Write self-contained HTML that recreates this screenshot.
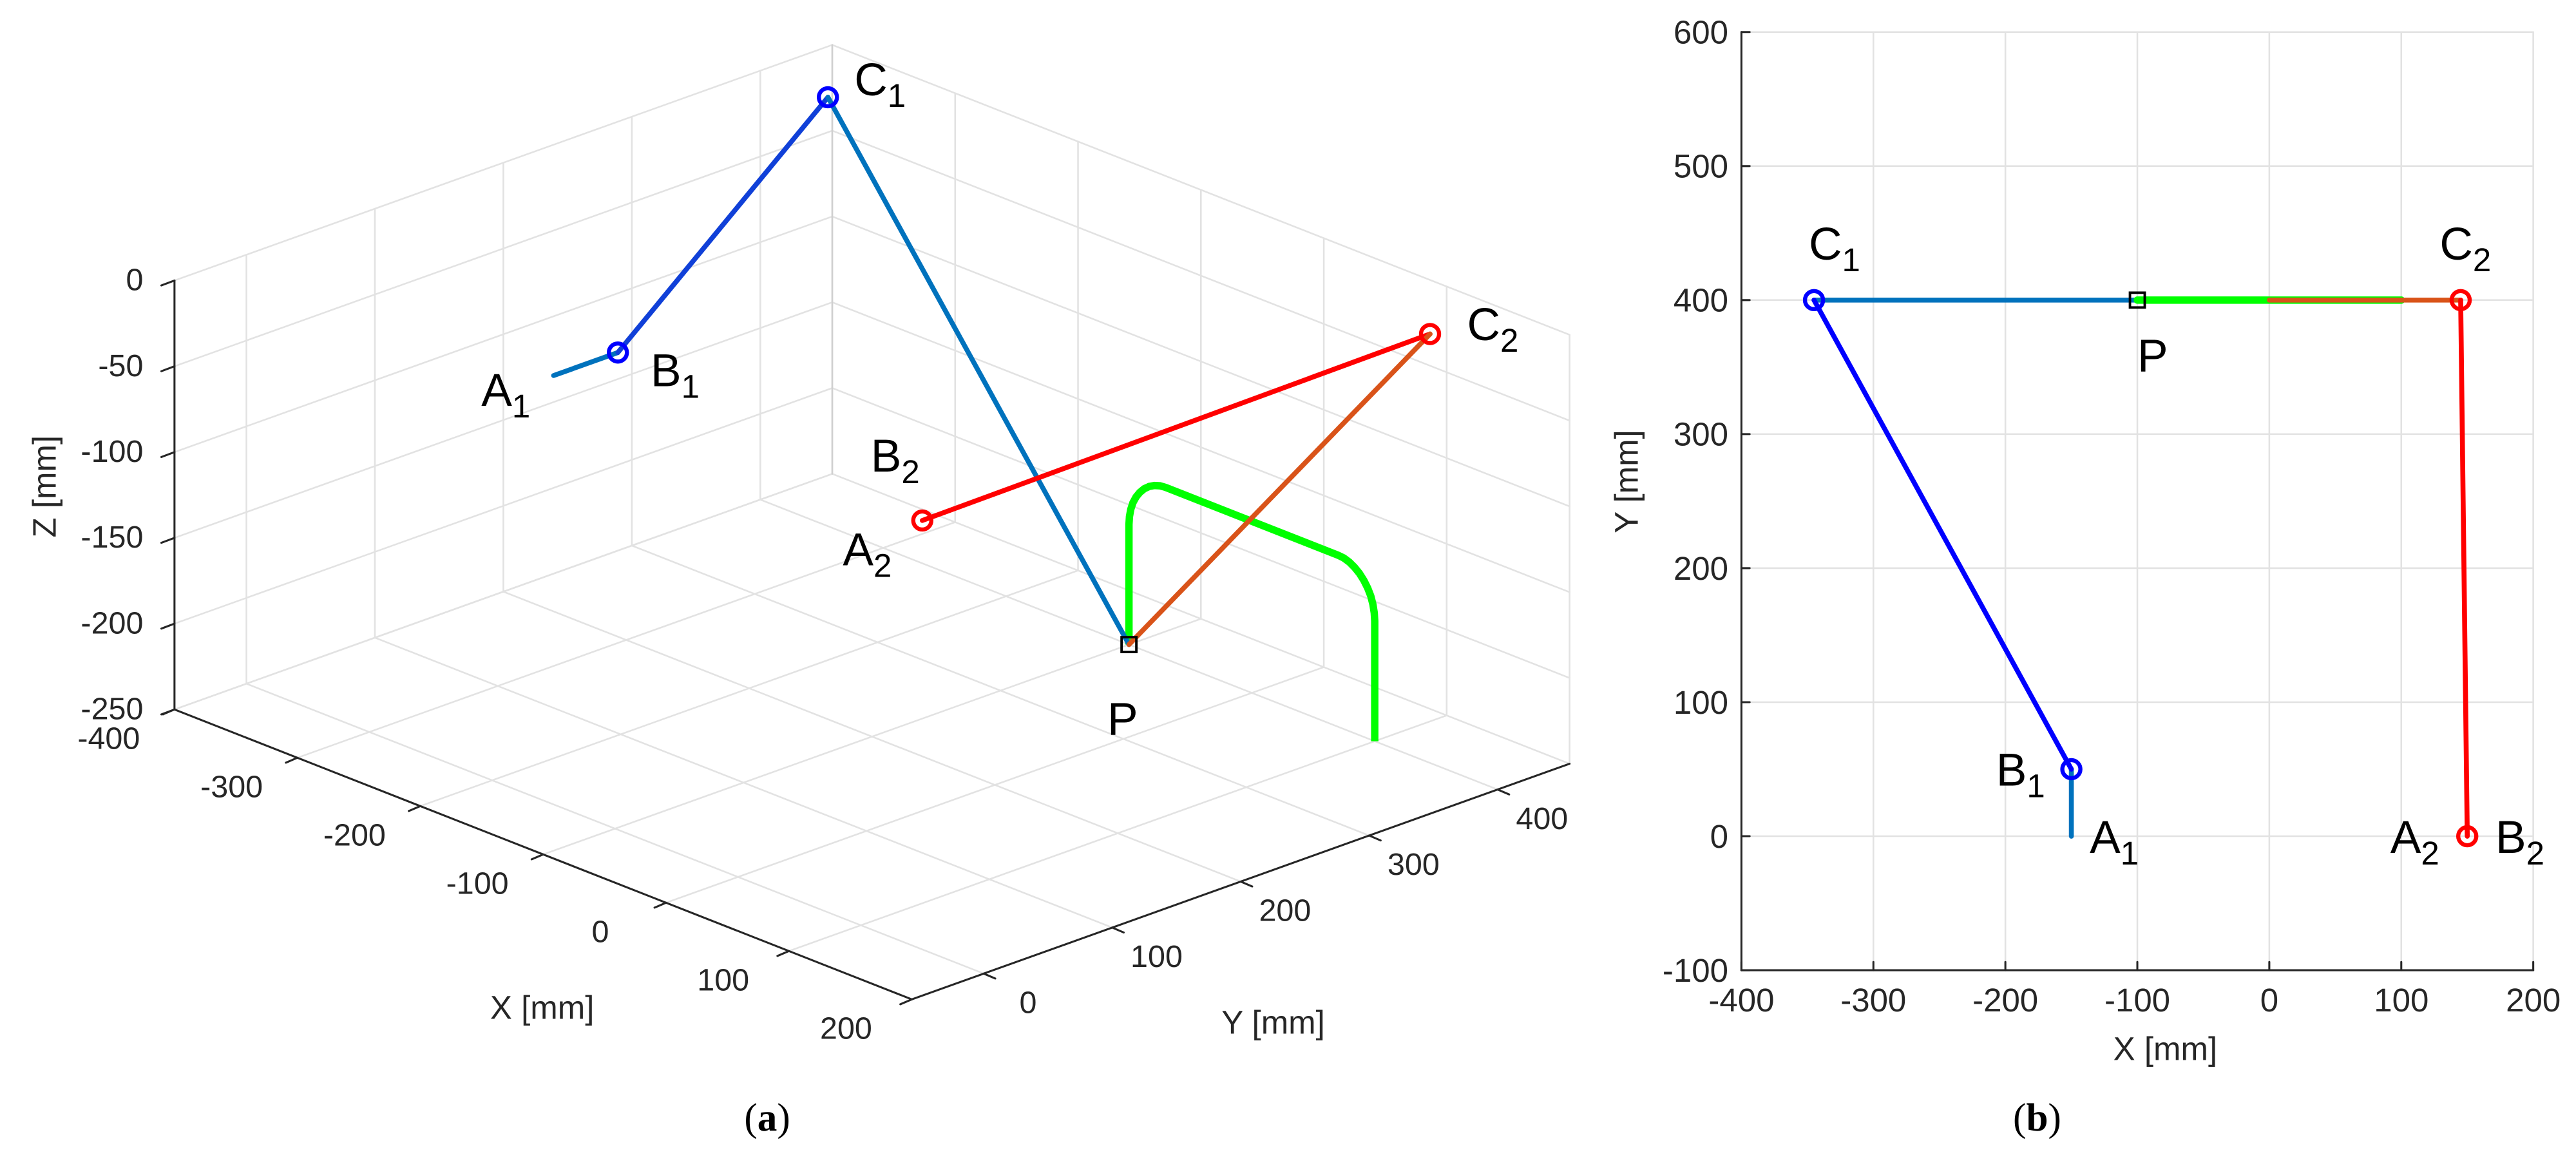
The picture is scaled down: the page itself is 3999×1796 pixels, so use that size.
<!DOCTYPE html>
<html><head><meta charset="utf-8"><style>
html,body{margin:0;padding:0;background:#fff;}
svg{display:block;font-family:"Liberation Sans",Arial,sans-serif;}
</style></head><body>
<svg id="fig" width="3999" height="1796" viewBox="0 0 1568 704" preserveAspectRatio="none" xmlns="http://www.w3.org/2000/svg">
<g id="pa"></g>
<g id="pb"></g>
<text x="467" y="688" font-family="Liberation Serif,serif" font-size="24" text-anchor="middle">(<tspan font-weight="bold">a</tspan>)</text>
<text x="1240" y="688" font-family="Liberation Serif,serif" font-size="24" text-anchor="middle">(<tspan font-weight="bold">b</tspan>)</text>
</svg>
<script>
// ---- data ----
const xTicks3 = [-400,-300,-200,-100,0,100,200];
const yTicks3 = [0,100,200,300,400];
const zTicks3 = [0,-50,-100,-150,-200,-250];
const pA1 = [-150,0,0], pB1 = [-150,50,0], pC1 = [-345,400,0];
const pA2 = [150,0,0], pB2 = [150,0,0], pC2 = [145,400,0];
const pP = [-100,400,-250];
const greenX = [-100,100];
const greenTopZ = -150;
const greenR = 30;
const xTicks2 = [-400,-300,-200,-100,0,100,200];
const yTicks2 = [600,500,400,300,200,100,0,-100];
const pts2 = {A1:[-150,0],B1:[-150,50],C1:[-345,400],A2:[150,0],B2:[150,0],C2:[145,400],P:[-100,400]};
const greenEnd2 = 100;

const NS="http://www.w3.org/2000/svg";
function mk(parent,tag,attrs){const e=document.createElementNS(NS,tag);for(const k in attrs)e.setAttribute(k,attrs[k]);parent.appendChild(e);return e;}
// ---- 3D projection ----
const Y0=-56, Y1=456;
function pr(X,Y,Z){return [150+(X+400)*0.748+Y*0.782, 416+(X+400)*0.294-Y*0.28-(Z+250)*1.044];}
const pa=document.getElementById('pa');
function ln(g,a,b,st,w,name){const l=mk(g,'line',{x1:a[0],y1:a[1],x2:b[0],y2:b[1],stroke:st,'stroke-width':w,'stroke-linecap':'round'});return l;}
xTicks3.forEach(x=>{ln(pa,pr(x,Y0,-250),pr(x,Y1,-250),'#e2e2e2',1,'grid-floor-x');ln(pa,pr(x,Y1,-250),pr(x,Y1,0),'#e2e2e2',1,'grid-wall-x');});
yTicks3.forEach(y=>{ln(pa,pr(-400,y,-250),pr(200,y,-250),'#e2e2e2',1,'grid-floor-y');ln(pa,pr(-400,y,-250),pr(-400,y,0),'#e2e2e2',1,'grid-wall-y');});
zTicks3.forEach(z=>{ln(pa,pr(-400,Y0,z),pr(-400,Y1,z),'#e2e2e2',1,'grid-wall-z');ln(pa,pr(-400,Y1,z),pr(200,Y1,z),'#e2e2e2',1,'grid-wall-z');});
ln(pa,pr(-400,Y1,-250),pr(-400,Y1,0),'#d0d0d0',1,'back-edge');
ln(pa,pr(-400,Y0,-250),pr(-400,Y0,0),'#262626',1.2,'z-axis');
ln(pa,pr(-400,Y0,-250),pr(200,Y0,-250),'#262626',1.2,'x-axis');
ln(pa,pr(200,Y0,-250),pr(200,Y1,-250),'#262626',1.2,'y-axis');
zTicks3.forEach(z=>{const p=pr(-400,Y0,z);ln(pa,p,[p[0]-8,p[1]+3],'#262626',1.2,'z-tick');
 const t=mk(pa,'text',{x:p[0]-19,y:p[1]+6,'font-size':19,'text-anchor':'end',fill:'#262626'});t.textContent=z;});
xTicks3.forEach(x=>{const p=pr(x,Y0,-250);ln(pa,p,[p[0]-7,p[1]+3],'#262626',1.2,'x-tick');
 const t=mk(pa,'text',{x:p[0]-40,y:p[1]+24,'font-size':19,'text-anchor':'middle',fill:'#262626'});t.textContent=x;});
yTicks3.forEach(y=>{const p=pr(200,y,-250);ln(pa,p,[p[0]+7,p[1]+3],'#262626',1.2,'y-tick');
 const t=mk(pa,'text',{x:p[0]+27,y:p[1]+24,'font-size':19,'text-anchor':'middle',fill:'#262626'});t.textContent=y;});
function lab(g,x,y,txt,name,sz,rot){const t=mk(g,'text',{x:x,y:y,'font-size':sz||20,'text-anchor':'middle',fill:'#262626'});if(rot)t.setAttribute('transform','rotate(-90 '+x+' '+y+')');t.textContent=txt;}
lab(pa,330,620,'X [mm]','x-axis-title');lab(pa,775,629,'Y [mm]','y-axis-title');lab(pa,34,296,'Z [mm]','z-axis-title',20,true);
(function(){const r=greenR,x0=greenX[0],x1=greenX[1],zt=greenTopZ;let d=[];
 const push=(X,Z)=>{const p=pr(X,400,Z);d.push(p[0].toFixed(1)+','+p[1].toFixed(1));};
 push(x0,-250);push(x0,zt-r);
 for(let i=0;i<=10;i++){const a=Math.PI-i*Math.PI/20;push(x0+r+r*Math.cos(a),zt-r+r*Math.sin(a));}
 push(x1-r,zt);
 for(let i=0;i<=10;i++){const a=Math.PI/2-i*Math.PI/20;push(x1-r+r*Math.cos(a),zt-r+r*Math.sin(a));}
 push(x1,-250);
 const pl=mk(pa,'polyline',{points:d.join(' '),fill:'none',stroke:'#00ff00','stroke-width':4.5});
 })();
ln(pa,pr(...pA1),pr(...pB1),'#0072bd',3,'link-a1-b1');
ln(pa,pr(...pB1),pr(...pC1),'#1040d8',3,'link-b1-c1');
ln(pa,pr(...pC1),pr(...pP),'#0072bd',3,'link-c1-p');
ln(pa,pr(...pB2),pr(...pC2),'#ff0000',3,'link-b2-c2');
ln(pa,pr(...pC2),pr(...pP),'#d95319',3,'link-c2-p');
function circ(g,p,c,name){const e=mk(g,'circle',{cx:p[0],cy:p[1],r:5.5,fill:'none',stroke:c,'stroke-width':2.5});}
circ(pa,pr(...pB1),'#0000ff','joint-b1');circ(pa,pr(...pC1),'#0000ff','joint-c1');circ(pa,pr(...pB2),'#ff0000','joint-b2');circ(pa,pr(...pC2),'#ff0000','joint-c2');
(function(){const p=pr(...pP);const r=mk(pa,'rect',{x:p[0]-4.5,y:p[1]-4.5,width:9,height:9,fill:'none',stroke:'#000','stroke-width':1.5});})();
function sub(g,x,y,m,s,name){const t=mk(g,'text',{x:x,y:y,'font-size':28,fill:'#000'});t.innerHTML=m+(s?'<tspan font-size="20" dy="7">'+s+'</tspan>':'');}
sub(pa,520,58,'C','1','label-c1');sub(pa,293,247,'A','1','label-a1');sub(pa,396,235,'B','1','label-b1');
sub(pa,530,287,'B','2','label-b2');sub(pa,513,344,'A','2','label-a2');sub(pa,893,207,'C','2','label-c2');sub(pa,674,447,'P','','label-p');
// ---- 2D ----
const pb=document.getElementById('pb');
function sx(x){return 1060+(x+400)*0.8033;}
function sy(y){return 19.5+(600-y)*0.8155;}
xTicks2.forEach(x=>{ln(pb,[sx(x),sy(600)],[sx(x),sy(-100)],'#e2e2e2',1,'grid-x');
 const t=mk(pb,'text',{x:sx(x),y:sy(-100)+25,'font-size':20,'text-anchor':'middle',fill:'#262626'});t.textContent=x;
 ln(pb,[sx(x),sy(-100)],[sx(x),sy(-100)-5],'#262626',1.2,'x-tick');});
yTicks2.forEach(y=>{ln(pb,[sx(-400),sy(y)],[sx(200),sy(y)],'#e2e2e2',1,'grid-y');
 const t=mk(pb,'text',{x:sx(-400)-8,y:sy(y)+7,'font-size':20,'text-anchor':'end',fill:'#262626'});t.textContent=y;
 ln(pb,[sx(-400),sy(y)],[sx(-400)+5,sy(y)],'#262626',1.2,'y-tick');});
ln(pb,[sx(-400),sy(600)],[sx(-400),sy(-100)],'#262626',1.2,'y-axis');
ln(pb,[sx(-400),sy(-100)],[sx(200),sy(-100)],'#262626',1.2,'x-axis');
lab(pb,1318,645,'X [mm]','x-axis-title');lab(pb,997,293,'Y [mm]','y-axis-title',20,true);
const S=k=>[sx(pts2[k][0]),sy(pts2[k][1])];
ln(pb,S('C1'),S('P'),'#0072bd',3,'link-c1-p');
ln(pb,S('P'),[sx(greenEnd2),sy(400)],'#00ff00',4.5,'green-trajectory');
ln(pb,[sx(0),sy(400)],S('C2'),'#d95319',3,'link-c2-p');
ln(pb,S('A1'),S('B1'),'#0072bd',3,'link-a1-b1');
ln(pb,S('B1'),S('C1'),'#0000ff',3,'link-b1-c1');
ln(pb,S('B2'),S('C2'),'#ff0000',3,'link-b2-c2');
circ(pb,S('C1'),'#0000ff','joint-c1');circ(pb,S('B1'),'#0000ff','joint-b1');circ(pb,S('C2'),'#ff0000','joint-c2');circ(pb,S('B2'),'#ff0000','joint-b2');
(function(){const p=S('P');const r=mk(pb,'rect',{x:p[0]-4.5,y:p[1]-4.5,width:9,height:9,fill:'none',stroke:'#000','stroke-width':1.5});})();
sub(pb,1101,158,'C','1','label-c1');sub(pb,1485,158,'C','2','label-c2');sub(pb,1301,226,'P','','label-p');
sub(pb,1215,478,'B','1','label-b1');sub(pb,1272,519,'A','1','label-a1');sub(pb,1455,519,'A','2','label-a2');sub(pb,1519,519,'B','2','label-b2');
</script>
</body></html>
